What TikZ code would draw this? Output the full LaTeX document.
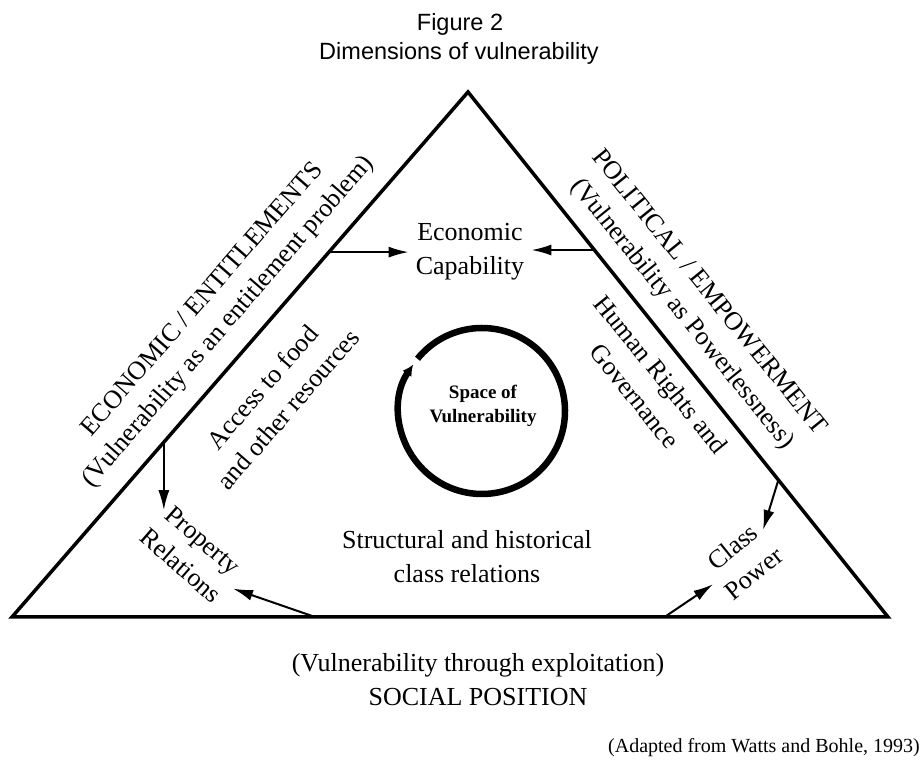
\documentclass[tikz,border=0pt]{standalone}
\usepackage{fontspec}
\setmainfont{Liberation Serif}
\newfontfamily\sansfig{Liberation Sans}
\usetikzlibrary{calc,arrows.meta}

\begin{document}
\begin{tikzpicture}[x=1pt,y=1pt,>={Latex[length=20pt,width=11pt]},
    lbl/.style={font=\fontsize{26}{34}\selectfont,align=center,inner sep=5pt},
    ttl/.style={font=\sansfig\fontsize{23.5}{29}\selectfont,anchor=base,inner sep=0pt},
    arr/.style={->,line width=2pt}]
\useasboundingbox (0,0) rectangle (923,771);
% title
\node[ttl] (fig) at (460,740) {Figure 2};
\node[ttl] (dim) at (459,711) {Dimensions of vulnerability};
% triangle
\coordinate (A) at (12,154);
\coordinate (B) at (888,154);
\coordinate (C) at (468,679);
\draw[line width=3.5pt,line join=miter] (A)--(B)--(C)--cycle;
% labels along the sides
\node[lbl,rotate=49] (econside) at (216,460) {ECONOMIC / ENTITLEMENTS\\(Vulnerability as an entitlement problem)};
\node[lbl,rotate=-51] (polside) at (695,467) {POLITICAL / EMPOWERMENT\\(Vulnerability as Powerlessness)};
\node[lbl,rotate=49] (access) at (275,373) {Access to food\\and other resources};
\node[lbl,rotate=-51] (rights) at (648,386) {Human Rights and\\Governance};
\node[lbl,rotate=-41] (prop) at (192,218) {Property\\Relations};
\node[lbl,rotate=39] (class) at (743,211) {Class\\Power};
\node[lbl,inner sep=7pt] (econ) at (470,519) {Economic\\Capability};
\node[lbl] (struct) at (467,214) {Structural and historical\\class relations};
\node[lbl] (social) at (478,91) {(Vulnerability through exploitation)\\SOCIAL POSITION};
\node[font=\fontsize{20}{24}\selectfont,anchor=base east,inner sep=0pt] (src) at (920,19) {(Adapted from Watts and Bohle, 1993)};
% space of vulnerability
\coordinate (O) at (482,360);
\node[font=\bfseries\fontsize{19}{24}\selectfont,align=center] (space) at (483,365) {Space of\\Vulnerability};
\draw[line width=6.5pt,-{Latex[length=11pt,width=11pt]}] ($(O)+(141:83)$) arc (141:-214:83);
% arrows
\coordinate (eL) at ($(A)!0.695!(C)$);
\coordinate (eR) at ($(B)!0.699!(C)$);
\draw[arr] (eL) -- (econ.west |- eL);
\draw[arr] (eR) -- (econ.east |- eR);
\coordinate (pL) at ($(A)!0.333!(C)$);
\coordinate (pT) at ($(pL)+(0,-68)$);
\draw[arr] (pL) -- (pT);
\coordinate (pB) at ($(A)!0.346!(B)$);
\draw[arr] (pB) -- (prop.east);
\coordinate (cR) at ($(B)!0.261!(C)$);
\coordinate (cT) at (763,241);
\draw[arr] (cR) -- (cT);
\coordinate (cB) at ($(A)!0.745!(B)$);
\draw[arr] (cB) -- (class.west);
\end{tikzpicture}
\end{document}
